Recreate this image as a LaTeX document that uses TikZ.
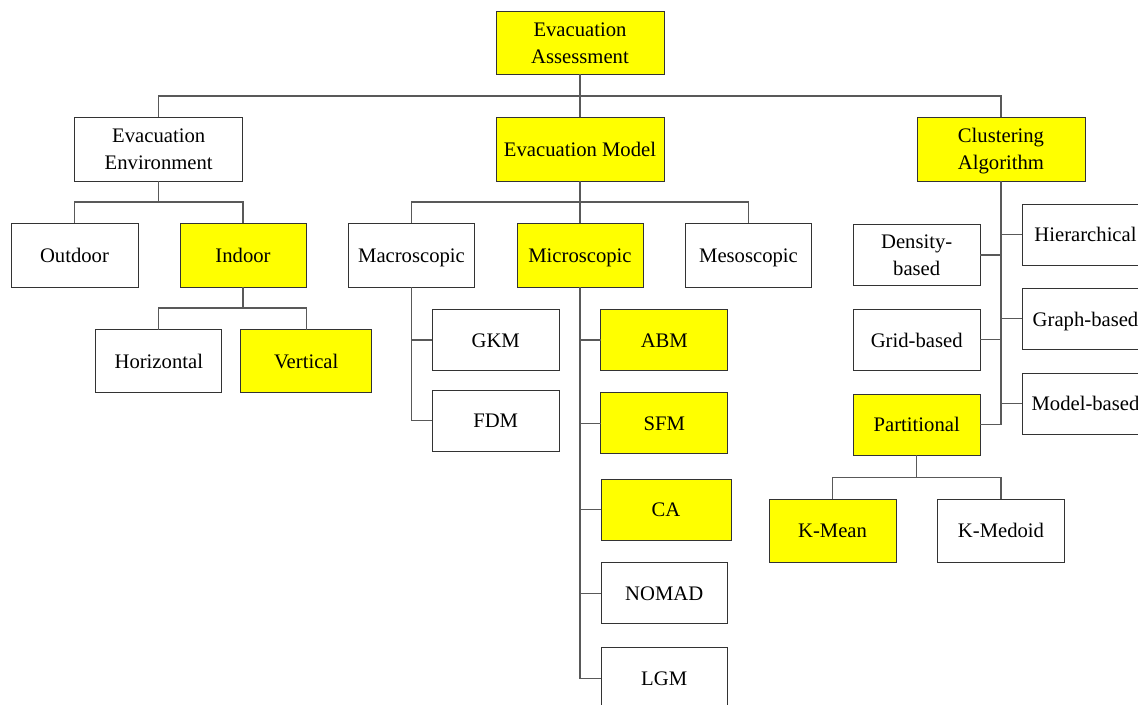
\documentclass[tikz,border=0pt]{standalone}
\usepackage{fontspec}
\setmainfont{Liberation Serif}
\definecolor{hlyellow}{RGB}{255,255,0}
\begin{document}
\begin{tikzpicture}[x=0.75pt,y=-0.75pt,
  box/.style={draw=black!80, line width=0.75pt, fill=white, inner sep=0pt, outer sep=0pt,
    align=center, font=\fontsize{15.5}{20.3}\selectfont, text height=10.8pt, text depth=0pt},
  hl/.style={box, fill=hlyellow},
  two/.style={text height=31.1pt},
  conn/.style={draw=black!65, line width=0.8pt}]
\useasboundingbox (0,0) rectangle (1138,704);
\clip (0,0) rectangle (1138,704);
\newcommand{\bx}[7]{\node[#6, minimum width=#4*0.75pt, minimum height=#5*0.75pt] (#1) at (#2,#3) {#7};}
% level 0-1
\bx{ea}{580}{42.5}{168}{63}{hl,two}{Evacuation\\Assessment}
\bx{env}{158.7}{149}{168.5}{64}{box,two}{Evacuation\\Environment}
\bx{model}{580}{149}{168}{64}{hl}{Evacuation Model}
\bx{clus}{1001}{149}{168}{64}{hl,two}{Clustering\\Algorithm}
% environment
\bx{outdoor}{74.5}{255}{127}{64}{box}{Outdoor}
\bx{indoor}{243}{255}{126}{64}{hl}{Indoor}
\bx{horiz}{158.8}{361}{126}{63}{box}{Horizontal}
\bx{vert}{306.2}{361}{131}{63}{hl}{Vertical}
% model
\bx{macro}{411.5}{255}{126}{64}{box}{Macroscopic}
\bx{micro}{580}{255}{126}{64}{hl}{Microscopic}
\bx{meso}{748.5}{255}{126}{64}{box}{Mesoscopic}
\bx{gkm}{495.7}{340}{127}{61}{box}{GKM}
\bx{fdm}{495.7}{420.7}{127}{61}{box}{FDM}
\bx{abm}{664.3}{340}{127}{61}{hl}{ABM}
\bx{sfm}{664.3}{423.3}{127}{61}{hl}{SFM}
\bx{ca}{666}{509.5}{130}{61}{hl}{CA}
\bx{nomad}{664.2}{593.2}{126}{61}{box}{NOMAD}
\bx{lgm}{664.2}{678.2}{126}{61}{box}{LGM}
% clustering
\bx{density}{916.7}{255}{127}{61}{box,two}{Density-\\based}
\bx{grid}{916.7}{339.8}{127}{61}{box}{Grid-based}
\bx{part}{916.7}{424.7}{127}{61}{hl}{Partitional}
\bx{hier}{1085.5}{234.5}{127}{61}{box}{Hierarchical}
\bx{graph}{1085.5}{318.8}{127}{61}{box}{Graph-based}
\bx{modelb}{1085.5}{403.5}{127}{61}{box}{Model-based}
\bx{kmean}{832.5}{530.7}{127}{63}{hl}{K-Mean}
\bx{kmedoid}{1001}{530.7}{127}{63}{box}{K-Medoid}
% bus coordinates
\coordinate (bar1) at (580,96);
\coordinate (bar2) at (158.7,202);
\coordinate (bar3) at (243,308);
\coordinate (bar4) at (580,202);
\coordinate (bar5) at (916.7,477.7);
% connectors
\draw[conn] (ea.south) -- (model.north);
\draw[conn] (env.north) |- (bar1) -| (clus.north);
\draw[conn] (env.south) -- (bar2);
\draw[conn] (outdoor.north) |- (bar2) -| (indoor.north);
\draw[conn] (indoor.south) -- (bar3);
\draw[conn] (horiz.north) |- (bar3) -| (vert.north);
\draw[conn] (model.south) -- (micro.north);
\draw[conn] (macro.north) |- (bar4) -| (meso.north);
\draw[conn] (macro.south) |- (fdm.west);
\draw[conn] (gkm.west) -- (gkm.west -| macro.south);
\draw[conn] (micro.south) |- (lgm.west);
\foreach \n in {abm,sfm,ca,nomad} \draw[conn] (\n.west) -- (\n.west -| micro.south);
\draw[conn] (clus.south) |- (part.east);
\foreach \n in {density,grid} \draw[conn] (\n.east) -- (\n.east -| clus.south);
\foreach \n in {hier,graph,modelb} \draw[conn] (\n.west) -- (\n.west -| clus.south);
\draw[conn] (part.south) -- (bar5);
\draw[conn] (kmean.north) |- (bar5) -| (kmedoid.north);
\end{tikzpicture}
\end{document}
